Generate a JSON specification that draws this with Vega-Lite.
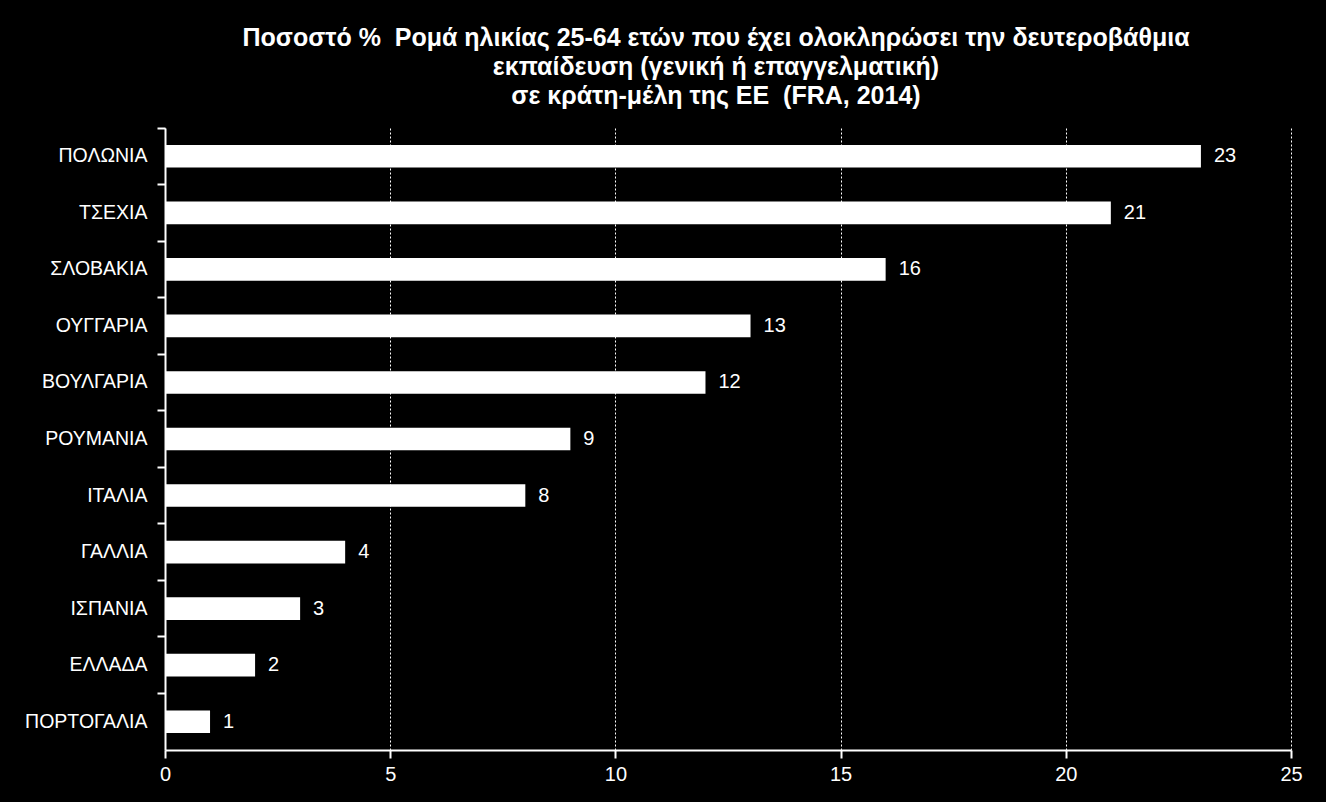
{
  "$schema": "https://vega.github.io/schema/vega-lite/v6.json",
  "width": 1126,
  "height": 622,
  "autosize": {"type": "none"},
  "padding": {"left": 165, "top": 128, "right": 35, "bottom": 52},
  "background": "#000000",
  "title": {
    "text": ["Ποσοστό %\u00a0 Ρομά ηλικίας 25-64 ετών που έχει ολοκληρώσει την δευτεροβάθμια", "εκπαίδευση (γενική ή επαγγελματική)", "σε κράτη-μέλη της ΕΕ\u00a0 (FRA, 2014)"],
    "font": "Liberation Sans",
    "fontSize": 25,
    "fontWeight": "bold",
    "color": "#ffffff",
    "lineHeight": 29,
    "anchor": "middle",
    "dx": -12,
    "offset": 18
  },
  "data": {
    "values": [
      {"country": "ΠΟΛΩΝΙΑ", "value": 23},
      {"country": "ΤΣΕΧΙΑ", "value": 21},
      {"country": "ΣΛΟΒΑΚΙΑ", "value": 16},
      {"country": "ΟΥΓΓΑΡΙΑ", "value": 13},
      {"country": "ΒΟΥΛΓΑΡΙΑ", "value": 12},
      {"country": "ΡΟΥΜΑΝΙΑ", "value": 9},
      {"country": "ΙΤΑΛΙΑ", "value": 8},
      {"country": "ΓΑΛΛΙΑ", "value": 4},
      {"country": "ΙΣΠΑΝΙΑ", "value": 3},
      {"country": "ΕΛΛΑΔΑ", "value": 2},
      {"country": "ΠΟΡΤΟΓΑΛΙΑ", "value": 1}
    ]
  },
  "config": {
    "view": {"stroke": null},
    "font": "Liberation Sans"
  },
  "encoding": {
    "y": {
      "field": "country",
      "type": "nominal",
      "sort": null,
      "scale": {"paddingInner": 0, "paddingOuter": 0},
      "axis": {
        "title": null,
        "domainColor": "#ffffff",
        "domainWidth": 2,
        "tickColor": "#ffffff",
        "tickWidth": 2,
        "tickSize": 8,
        "bandPosition": 0,
        "labelColor": "#ffffff",
        "labelFont": "Liberation Sans",
        "labelFontSize": 19.5,
        "labelPadding": 10,
        "grid": false
      }
    },
    "x": {
      "field": "value",
      "type": "quantitative",
      "scale": {"domain": [0, 25], "nice": false},
      "axis": {
        "title": null,
        "values": [0, 5, 10, 15, 20, 25],
        "domainColor": "#ffffff",
        "domainWidth": 2,
        "tickColor": "#ffffff",
        "tickWidth": 2,
        "tickSize": 8,
        "labelColor": "#ffffff",
        "labelFont": "Liberation Sans",
        "labelFontSize": 20,
        "labelPadding": 6,
        "labelFlush": false,
        "grid": true,
        "gridColor": "#ffffff",
        "gridDash": [2, 2],
        "gridWidth": 1,
        "gridOpacity": 1
      }
    }
  },
  "layer": [
    {
      "mark": {"type": "bar", "color": "#ffffff", "height": {"band": 0.4}}
    },
    {
      "mark": {"type": "text", "align": "left", "baseline": "middle", "dx": 13, "fontSize": 20, "color": "#ffffff", "font": "Liberation Sans"},
      "encoding": {"text": {"field": "value", "type": "quantitative"}}
    }
  ]
}
